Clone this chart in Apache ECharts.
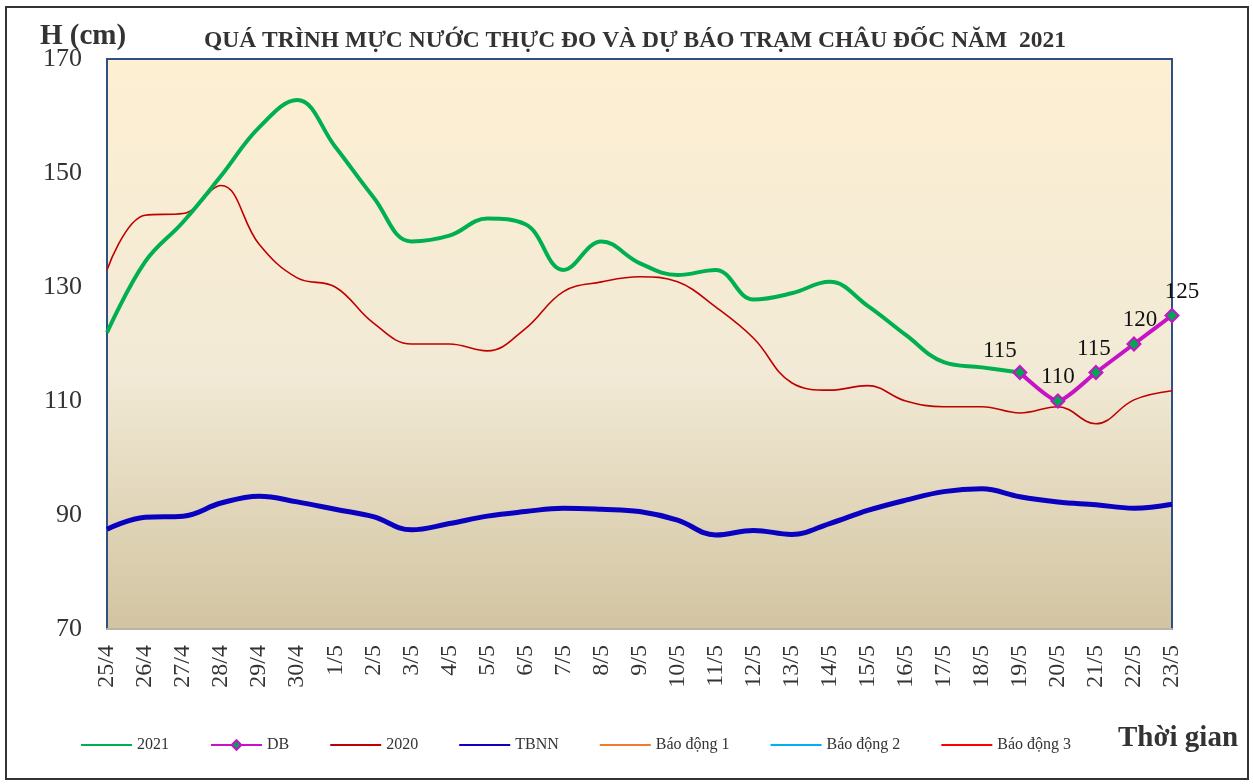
<!DOCTYPE html>
<html>
<head>
<meta charset="utf-8">
<script src="https://cdn.jsdelivr.net/npm/echarts@6/dist/echarts.min.js"></script>
<style>
  html, body { margin: 0; padding: 0; background: #fff; }
  #chart { width: 1253px; height: 784px; }
  .frame { position: absolute; left: 5px; top: 6px; width: 1240px; height: 770px; border: 2px solid #333; pointer-events: none; }
</style>
</head>
<body>
<div id="chart"></div>
<div class="frame"></div>
<script>
const days = ['25/4', '26/4', '27/4', '28/4', '29/4', '30/4', '1/5', '2/5', '3/5', '4/5', '5/5', '6/5', '7/5', '8/5', '9/5',
  '10/5', '11/5', '12/5', '13/5', '14/5', '15/5', '16/5', '17/5', '18/5', '19/5', '20/5', '21/5', '22/5', '23/5'];

// muc nuoc thuc do 2021 (den 19/5)
const level2021 = [122, 134.4, 141.4, 149.5, 158, 162.8, 154.6, 145.8, 138, 139, 142, 141, 133, 138, 134.2,
  132.1, 133, 127.8, 128.9, 130.9, 126.7, 121.6, 116.8, 115.9, 115, null, null, null, null];

// du bao
const forecast = [null, null, null, null, null, null, null, null, null, null, null, null, null, null, null,
  null, null, null, null, null, null, null, null, null, 115, 110, 115, 120, 125];

const level2020 = [133, 142.6, 142.9, 147.8, 137.5, 131.6, 130, 123.7, 120, 120, 118.8, 122.7, 129.2, 130.9, 131.8,
  130.9, 126.5, 121, 113.2, 111.9, 112.7, 110, 109, 109, 107.9, 109, 106, 110.2, 111.8];

// trung binh nhieu nam
const tbnn = [87.5, 89.6, 89.8, 92.1, 93.3, 92.3, 91, 89.7, 87.4, 88.5, 89.8, 90.6, 91.2, 91, 90.6,
  89.1, 86.5, 87.3, 86.6, 88.5, 90.8, 92.6, 94.1, 94.6, 93.2, 92.3, 91.8, 91.2, 91.9];

// bao dong nam ngoai khung truc nen khong ve
const alarm1 = [];
const alarm2 = [];
const alarm3 = [];

const yTicks = { min: 70, max: 170, step: 20 };

const serif = "'Liberation Serif', 'Times New Roman', serif";
const lineIcon = 'path://M0,5 L50,5 L50,7 L0,7 Z';

// nhan du bao lech nhe cho khoi de len duong
const labelShift = [[-20, 2], [0, 0], [-2, 0], [6, 0], [10, 0]];
const forecastData = forecast.map((v, i) => {
  if (v == null) return v;
  const k = i - forecast.findIndex((x) => x != null);
  return { value: v, label: { offset: labelShift[k] } };
});

const chart = echarts.init(document.getElementById('chart'), null, { renderer: 'canvas' });

chart.setOption({
  animation: false,
  backgroundColor: '#ffffff',
  textStyle: { fontFamily: serif },
  title: {
    text: 'QUÁ TRÌNH MỰC NƯỚC THỰC ĐO VÀ DỰ BÁO TRẠM CHÂU ĐỐC NĂM  2021',
    left: 630,
    textAlign: 'center',
    top: 24,
    textStyle: { fontFamily: serif, fontSize: 23.5, fontWeight: 'bold', color: '#333' }
  },
  graphic: [
    {
      type: 'text', left: 40, top: 22,
      style: { text: 'H (cm)', font: "bold 29px 'Liberation Serif', serif", fill: '#333' }
    },
    {
      type: 'text', left: 1118, top: 724,
      style: { text: 'Thời gian', font: "bold 29px 'Liberation Serif', serif", fill: '#333' }
    }
  ],
  legend: {
    left: 76,
    top: 732,
    itemWidth: 51,
    itemHeight: 12,
    itemGap: 41,
    textStyle: { fontFamily: serif, fontSize: 16, color: '#333' },
    data: [
      { name: '2021', icon: lineIcon },
      { name: 'DB' },
      { name: '2020', icon: lineIcon },
      { name: 'TBNN', icon: lineIcon },
      { name: 'Báo động 1', icon: lineIcon },
      { name: 'Báo động 2', icon: lineIcon },
      { name: 'Báo động 3', icon: lineIcon }
    ]
  },
  grid: {
    left: 107,
    right: 81,
    top: 59,
    bottom: 155,
    show: true,
    borderColor: '#2f5083',
    borderWidth: 2,
    backgroundColor: {
      type: 'linear', x: 0, y: 0, x2: 0, y2: 1,
      colorStops: [
        { offset: 0, color: '#fdefd2' },
        { offset: 0.55, color: '#f2ead6' },
        { offset: 1, color: '#d2c4a1' }
      ]
    }
  },
  xAxis: {
    type: 'category',
    data: days,
    boundaryGap: false,
    axisLine: { show: true, lineStyle: { color: '#b9b3a8', width: 2 } },
    axisTick: { show: false },
    axisLabel: {
      rotate: 90,
      margin: 16,
      fontFamily: serif,
      fontSize: 24,
      color: '#333'
    },
    splitLine: { show: false }
  },
  yAxis: {
    type: 'value',
    min: yTicks.min,
    max: yTicks.max,
    interval: yTicks.step,
    axisLine: { show: false },
    axisTick: { show: false },
    splitLine: { show: false },
    axisLabel: { margin: 25, fontFamily: serif, fontSize: 26, color: '#333' }
  },
  series: [
    {
      name: '2021', type: 'line', data: level2021, smooth: 0.4, symbol: 'none',
      lineStyle: { color: '#00b050', width: 4 }, itemStyle: { color: '#00b050' }, z: 4
    },
    {
      name: 'DB', type: 'line', data: forecastData, smooth: 0.2,
      symbol: 'diamond', symbolSize: 13,
      lineStyle: { color: '#c414c4', width: 4 },
      itemStyle: { color: '#00a651', borderColor: '#c414c4', borderWidth: 2 },
      label: {
        show: true, position: 'top', distance: 5,
        fontFamily: serif, fontSize: 23, color: '#111'
      },
      z: 6
    },
    {
      name: '2020', type: 'line', data: level2020, smooth: 0.4, symbol: 'none',
      lineStyle: { color: '#c00000', width: 1.6 }, itemStyle: { color: '#c00000' }, z: 3
    },
    {
      name: 'TBNN', type: 'line', data: tbnn, smooth: 0.4, symbol: 'none',
      lineStyle: { color: '#0a00c0', width: 5 }, itemStyle: { color: '#0a00c0' }, z: 3
    },
    {
      name: 'Báo động 1', type: 'line', data: alarm1, symbol: 'none',
      lineStyle: { color: '#ed7d31', width: 2 }, itemStyle: { color: '#ed7d31' }
    },
    {
      name: 'Báo động 2', type: 'line', data: alarm2, symbol: 'none',
      lineStyle: { color: '#00b0f0', width: 2 }, itemStyle: { color: '#00b0f0' }
    },
    {
      name: 'Báo động 3', type: 'line', data: alarm3, symbol: 'none',
      lineStyle: { color: '#ff0000', width: 2 }, itemStyle: { color: '#ff0000' }
    }
  ]
});
</script>
</body>
</html>
